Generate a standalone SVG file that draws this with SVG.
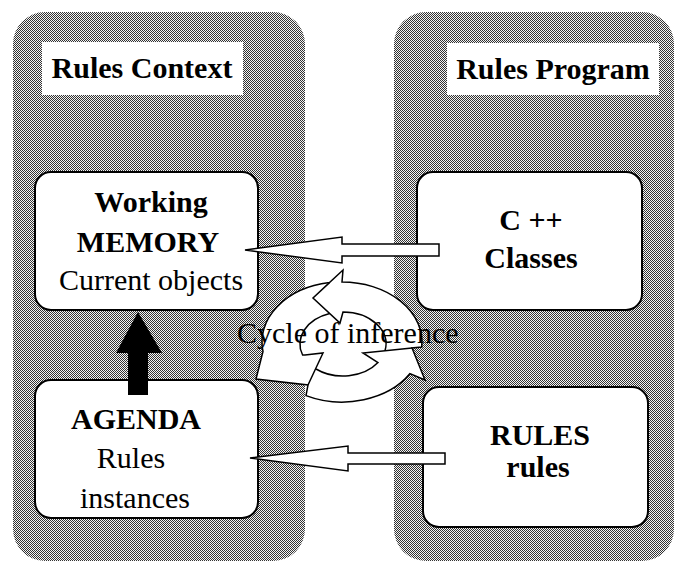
<svg xmlns="http://www.w3.org/2000/svg" width="675" height="562" viewBox="0 0 675 562">
<defs>
<pattern id="dither" width="2" height="2" patternUnits="userSpaceOnUse">
<rect width="2" height="2" fill="#f4f4f4"/>
<rect x="0" y="0" width="1" height="1" fill="#333"/>
<rect x="1" y="1" width="1" height="1" fill="#333"/>
</pattern>
<style>
.panel{fill:url(#dither);stroke:none}
.hdr{fill:#fff;stroke:none}
.box{fill:#fff;stroke:#000;stroke-width:2}
text{font-family:'Liberation Serif','DejaVu Serif','Times New Roman',serif;font-size:30px;fill:#000;text-anchor:middle}
.b{font-weight:bold}
.hollow{fill:#fff;stroke:#000;stroke-width:1.5;stroke-linejoin:miter}
.ln{fill:none;stroke:#000;stroke-width:1.5;stroke-linejoin:miter}
.ring{fill:#fff;stroke:#000;stroke-width:1.5;stroke-linejoin:miter}
</style>
</defs>
<rect width="675" height="562" fill="#fff"/>

<g id="panel-context">
<rect class="panel" x="13" y="12" width="292" height="549" rx="32"/>
<rect class="hdr" x="42" y="42" width="201" height="53"/>
<text class="b" x="142" y="78">Rules Context</text>
</g>

<g id="panel-program">
<rect class="panel" x="394" y="12" width="280" height="549" rx="32"/>
<rect class="hdr" x="447" y="43" width="212" height="52"/>
<text class="b" x="553" y="79">Rules Program</text>
</g>

<g id="working-memory">
<rect class="box" x="35" y="172" width="223" height="138" rx="16"/>
<text class="b" x="151" y="212">Working</text>
<text class="b" x="148" y="252">MEMORY</text>
<text x="151" y="290">Current objects</text>
</g>

<g id="agenda">
<rect class="box" x="35" y="380" width="223" height="138" rx="16"/>
<text class="b" x="136" y="429">AGENDA</text>
<text x="131" y="468">Rules</text>
<text x="135" y="508">instances</text>
</g>

<g id="cpp-classes">
<rect class="box" x="417" y="172" width="225" height="138" rx="16"/>
<text class="b" x="531" y="230">C ++</text>
<text class="b" x="531" y="268">Classes</text>
</g>

<g id="rules">
<rect class="box" x="423" y="387" width="225" height="140" rx="16"/>
<text class="b" x="540" y="445">RULES</text>
<text class="b" x="538" y="477">rules</text>
</g>

<g id="cycle">
<path class="ring" d="M421.7,347 A80,60 0 0 0 342,282 L343,270 L329.5,282.6 A80,60 0 0 0 263,351.5 L256,379 L308,385 L306,395.6 A80,60 0 0 0 410,373.6 L425,380 L412,348 Z"/>
<path class="ln" d="M329.5,282.6 L313,298 L340,323 L343,312 A43,32 0 0 1 385,350.8"/>
<path class="ln" d="M412,348 L363,353 L378,362.6 A43,32 0 0 1 316,369"/>
<path class="ln" d="M308,385 L323,353 L305,355 L302.6,355 A43,32 0 0 1 329.7,313.6"/>
<text x="237" y="343" style="text-anchor:start">Cycle of inference</text>
</g>

<g id="connectors">
<polygon class="hollow" points="245,250 342,237 342,244 439,244 439,256 342,256 342,263"/>
<polygon class="hollow" points="250,458 348,446 348,453 445,453 445,464 348,464 348,471"/>
<polygon fill="#000" points="138,312 162,353 148,353 148,395 128,395 128,353 116,353"/>
</g>
</svg>
